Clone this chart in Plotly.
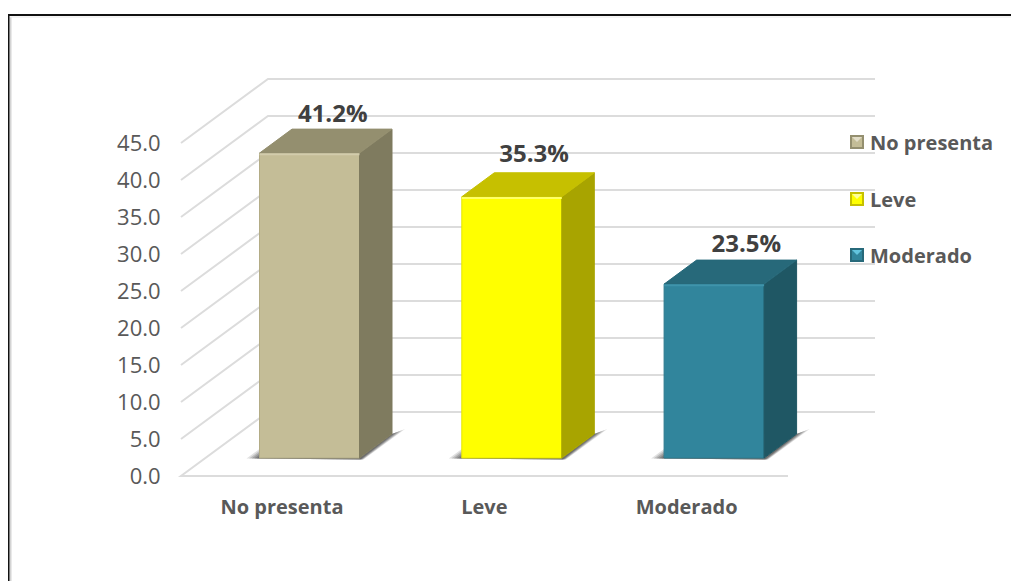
import plotly.graph_objects as go

# ---- data ----
categories = ["No presenta", "Leve", "Moderado"]
values = [41.2, 35.3, 23.5]
value_labels = ["41.2%", "35.3%", "23.5%"]
y_ticks = [0, 5, 10, 15, 20, 25, 30, 35, 40, 45]
front_colors = ["#C4BD97", "#FFFF00", "#31859C"]
side_colors = ["#7F7B5F", "#A8A400", "#1F5764"]
top_colors = ["#948F6F", "#C6C000", "#27697A"]
edge_colors = ["#B3AC86", "#E6E600", "#2C7A8E"]
bevel_colors = ["#D2CCAC", "#FFFF66", "#3F94AB"]
swatch_light = ["#E2DDC8", "#FFFF99", "#62C4DE"]
label_shift_px = [7, 6, 16]
label_lift_px = [13, 17, 14]
legend_rows_px = [142, 199, 255]

# ---- oblique projection: pixels per data unit ----
# the page has an 8px body margin, so page pixel = figure pixel + 8
PAGE = 8
W, H = 1019 - PAGE, 581 - PAGE
XU, YU = 202.3, 7.4          # px per category step, px per value unit
L, R, T, B = 171 - PAGE, 880 - PAGE, 30 - PAGE, 486 - PAGE
X0_PX, Y0_PX = 282 - PAGE, 476 - PAGE      # position of category 0, value 0
WALL_DX, WALL_DY = 87 / XU, 64 / YU   # depth of the floor
BAR_DX, BAR_DY = 32.5 / XU, 24 / YU   # depth of each bar
BAR_SHIFT, BAR_BASE = 27.5 / XU, 18 / YU
BAR_W = 100 / XU
X_LEFT = (181 - PAGE - X0_PX) / XU
X_RIGHT_FRONT = (788 - PAGE - X0_PX) / XU
X_RIGHT_BACK = (875 - PAGE - X0_PX) / XU


def path(points):
    return "M" + " L".join(f"{x:.4f},{y:.4f}" for x, y in points) + " Z"


def open_path(points):
    return "M" + " L".join(f"{x:.4f},{y:.4f}" for x, y in points)


def paper_x(page_px):
    return (page_px - PAGE - L) / (R - L)


def paper_y(page_px):
    return (B - (page_px - PAGE)) / (B - T)


shapes = []
GRID = dict(color="#DCDCDC", width=2)
# floor front edge + wall grid, all from the axis ticks
shapes.append(dict(type="path", xref="x", yref="y", layer="below", line=GRID,
                   path=open_path([(X_RIGHT_FRONT, 0), (X_LEFT, 0), (X_LEFT + WALL_DX, WALL_DY), (X_RIGHT_BACK, WALL_DY)])))
for t in y_ticks[1:]:
    shapes.append(dict(type="path", xref="x", yref="y", layer="below", line=GRID,
                       path=open_path([(X_LEFT, t), (X_LEFT + WALL_DX, t + WALL_DY), (X_RIGHT_BACK, t + WALL_DY)])))

# soft shadows on the floor, beneath each bar
for i in range(len(categories)):
    xl = i + BAR_SHIFT - BAR_W / 2
    xr = i + BAR_SHIFT + BAR_W / 2
    for k, a in ((1.0, 0.16), (0.8, 0.2), (0.6, 0.24), (0.4, 0.28), (0.2, 0.3)):
        pts = [(xl - 13 * k / XU, BAR_BASE - 0.5 / YU), (xl, BAR_BASE + 9 * k / YU), (xl, BAR_BASE),
               (xr, BAR_BASE),
               (xr + BAR_DX, BAR_BASE + BAR_DY),
               (xr + BAR_DX + 13 * k / XU, BAR_BASE + BAR_DY + 5 * k / YU),
               (xr + 4 * k / XU, BAR_BASE - 1.5 / YU)]
        shapes.append(dict(type="path", xref="x", yref="y", layer="below",
                           fillcolor=f"rgba(60,60,60,{a})", line=dict(width=0), path=path(pts)))

# page frame
shapes += [
    dict(type="line", xref="paper", yref="paper", x0=paper_x(10.5), x1=paper_x(10.5), y0=paper_y(17), y1=paper_y(581),
         line=dict(color="#D4D4D4", width=2)),
    dict(type="line", xref="paper", yref="paper", x0=paper_x(10), x1=paper_x(1019), y0=paper_y(17), y1=paper_y(17),
         line=dict(color="#EAEAEA", width=1)),
    dict(type="line", xref="paper", yref="paper", x0=paper_x(8.5), x1=paper_x(8.5), y0=paper_y(14), y1=paper_y(581),
         line=dict(color="#111111", width=2)),
    dict(type="line", xref="paper", yref="paper", x0=paper_x(8), x1=paper_x(1019), y0=paper_y(15), y1=paper_y(15),
         line=dict(color="#111111", width=2)),
]

# legend: bevelled swatches and real text at the right of the wall
annotations = []
for i, (c, row) in enumerate(zip(categories, legend_rows_px)):
    xa, xb = paper_x(850), paper_x(864)
    ya, yb = paper_y(row + 7), paper_y(row - 7)
    shapes.append(dict(type="rect", xref="paper", yref="paper", x0=xa, x1=xb, y0=ya, y1=yb,
                       fillcolor=top_colors[i], line=dict(width=0)))
    shapes.append(dict(type="rect", xref="paper", yref="paper", x0=paper_x(852), x1=paper_x(862),
                       y0=paper_y(row + 5), y1=paper_y(row - 5), fillcolor=front_colors[i], line=dict(width=0)))
    shapes.append(dict(type="path", xref="paper", yref="paper", fillcolor=swatch_light[i], line=dict(width=0),
                       path=path([(paper_x(852), paper_y(row - 5)), (paper_x(862), paper_y(row - 5)),
                                  (paper_x(857), paper_y(row))])))
    annotations.append(dict(xref="paper", yref="paper", x=paper_x(870), y=paper_y(row), text=c,
                            xanchor="left", yanchor="middle", showarrow=False, xshift=0,
                            borderpad=0, borderwidth=0,
                            font=dict(family="Open Sans", size=20, color="#595959", weight="bold")))

fig = go.Figure()

# front faces
for i, (c, v) in enumerate(zip(categories, values)):
    fig.add_trace(go.Bar(
        x=[i + BAR_SHIFT], y=[v], base=[BAR_BASE], width=[BAR_W], name=c,
        showlegend=False, hoverinfo="skip",
        marker=dict(color=front_colors[i], line=dict(color=edge_colors[i], width=1)),
    ))

# side and top faces, with a light bevel along the top-front edge
for i, (c, v) in enumerate(zip(categories, values)):
    xl = i + BAR_SHIFT - BAR_W / 2
    xr = i + BAR_SHIFT + BAR_W / 2
    y0 = BAR_BASE
    y1 = BAR_BASE + v
    fig.add_trace(go.Scatter(
        x=[xr, xr + BAR_DX, xr + BAR_DX, xr, xr], y=[y0, y0 + BAR_DY, y1 + BAR_DY, y1, y0],
        mode="lines", fill="toself", fillcolor=side_colors[i], line=dict(color=side_colors[i], width=1),
        showlegend=False, hoverinfo="skip"))
    fig.add_trace(go.Scatter(
        x=[xl, xl + BAR_DX, xr + BAR_DX, xr, xl], y=[y1, y1 + BAR_DY, y1 + BAR_DY, y1, y1],
        mode="lines", fill="toself", fillcolor=top_colors[i], line=dict(color=top_colors[i], width=1),
        showlegend=False, hoverinfo="skip"))
    fig.add_trace(go.Scatter(
        x=[xl, xr], y=[y1 - 1.2 / YU, y1 - 1.2 / YU],
        mode="lines", line=dict(color=bevel_colors[i], width=2),
        showlegend=False, hoverinfo="skip"))

# value labels
fig.add_trace(go.Scatter(
    x=[i + BAR_SHIFT + (BAR_DX / 2) + label_shift_px[i] / XU for i in range(len(values))],
    y=[BAR_BASE + v + BAR_DY + label_lift_px[i] / YU for i, v in enumerate(values)],
    mode="text", text=value_labels, textposition="middle center",
    textfont=dict(family="Open Sans", size=24, color="#404040", weight="bold"),
    showlegend=False, hoverinfo="skip"))

fig.update_layout(
    width=W, height=H, autosize=False, showlegend=False,
    margin=dict(l=L, r=W - R, t=T, b=H - B, pad=0),
    paper_bgcolor="white", plot_bgcolor="rgba(0,0,0,0)",
    barmode="overlay", shapes=shapes, annotations=annotations,
    font=dict(family="Open Sans", color="#595959"),
    xaxis=dict(range=[(L - X0_PX) / XU, (R - X0_PX) / XU], tickmode="array",
               tickvals=list(range(len(categories))), ticktext=categories,
               showgrid=False, zeroline=False, showline=False, ticks="outside", ticklen=3,
               tickcolor="rgba(0,0,0,0)",
               tickfont=dict(family="Open Sans", size=20, color="#595959", weight="bold")),
    yaxis=dict(range=[(Y0_PX - B) / YU, (Y0_PX - T) / YU], tickmode="array",
               tickvals=y_ticks, tickformat=".1f",
               showgrid=False, zeroline=False, showline=False, ticks="outside", ticklen=5,
               tickcolor="rgba(0,0,0,0)",
               tickfont=dict(family="Open Sans", size=22, color="#595959")),
)

fig.write_html("out.html")
